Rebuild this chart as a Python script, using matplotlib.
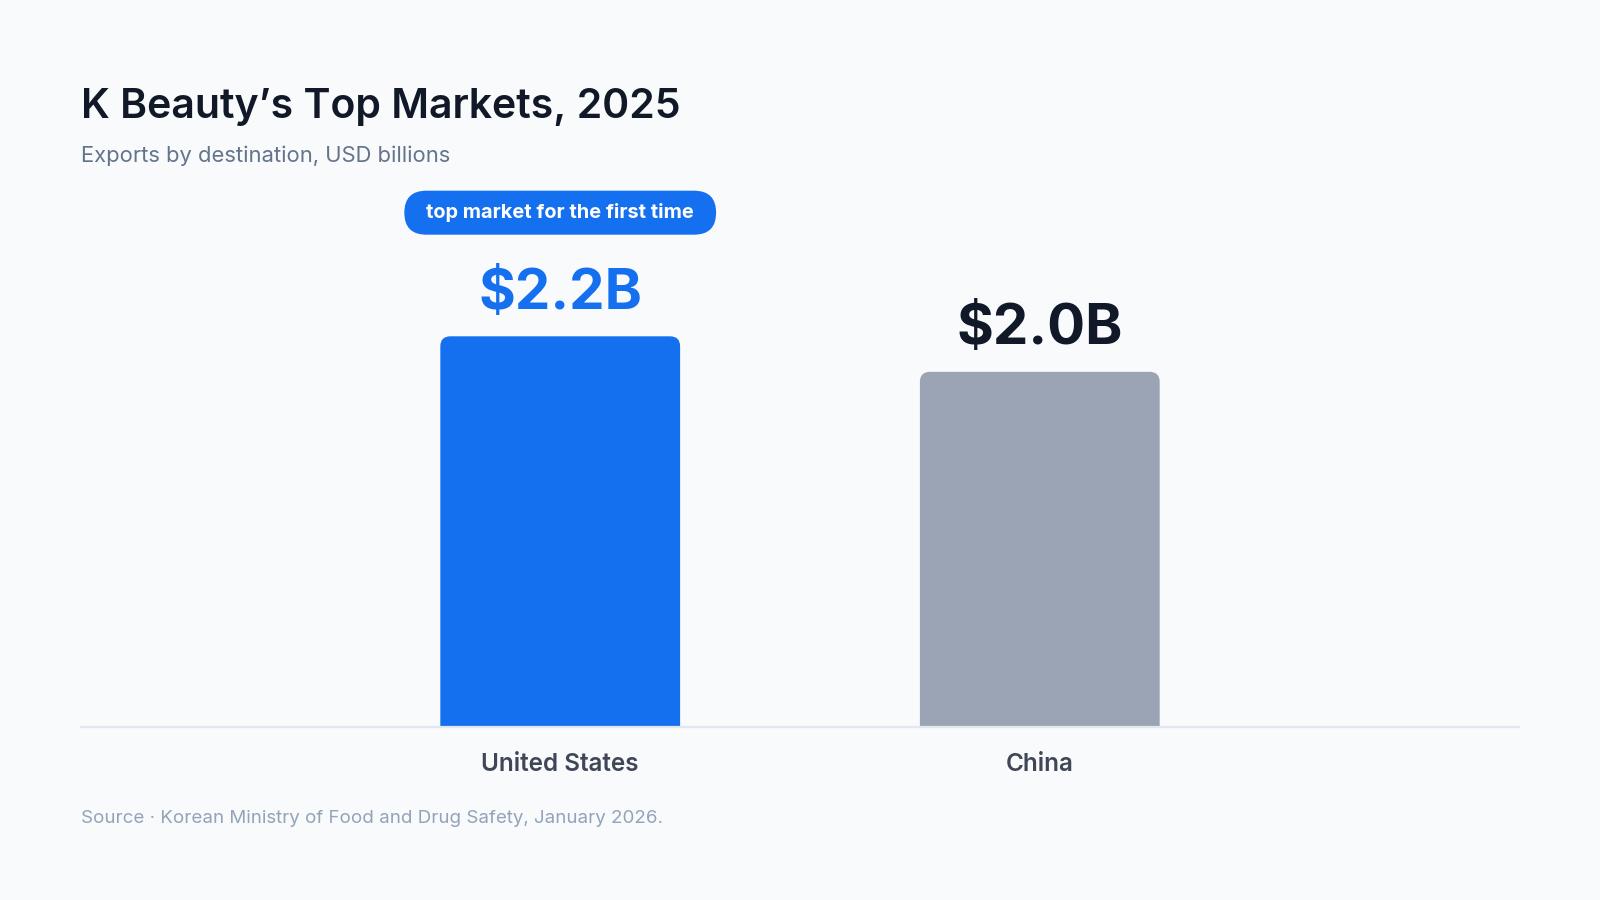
import matplotlib
matplotlib.use("Agg")
import matplotlib.pyplot as plt
from matplotlib.patches import FancyBboxPatch

markets = ["United States", "China"]
exports = [2.2, 2.0]
value_labels = ["$2.2B", "$2.0B"]
bar_colors = ["#1570ef", "#9ba4b4"]
label_colors = ["#1570ef", "#111827"]
badge_text = "top market for the first time"

bg = "#f8fafc"
plt.rcParams["font.family"] = ["Inter", "DejaVu Sans"]

fig = plt.figure(figsize=(16, 9), dpi=100, facecolor=bg)
ax = fig.add_axes([0.0504, 0.1922, 0.8992, 0.592])
ax.set_facecolor(bg)
ax.set_xlim(-1, 2)
ax.set_ylim(0, 3)

# px per data unit, used to keep corner radius round
px_x = ax.get_position().width * 1600 / 3
px_y = ax.get_position().height * 900 / 3
radius_px = 10
bars = ax.bar(range(len(markets)), exports, width=0.5, color="none")
for b, c in zip(bars, bar_colors):
    x0, w, h = b.get_x(), b.get_width(), b.get_height()
    r = radius_px / px_x
    ext = 2 * radius_px / px_y  # pushed below the axis, clipped away
    ax.add_patch(FancyBboxPatch((x0, -ext), w, h + ext,
                                boxstyle=f"round,pad=0,rounding_size={r}",
                                mutation_aspect=px_x / px_y,
                                fc=c, ec="none", zorder=2))

for i, (v, lab, c) in enumerate(zip(exports, value_labels, label_colors)):
    ax.annotate(lab, (i, v), xytext=(0, 20), textcoords="offset points",
                ha="center", va="baseline", fontsize=40.5,
                fontweight="bold", color=c)

# badge over the top market
top = exports.index(max(exports))
badge = ax.annotate(badge_text, (top, exports[top]), xytext=(0, 89),
                    textcoords="offset points", ha="center", va="center",
                    fontsize=14.4, fontweight="bold", color="white", zorder=6)

for s in ax.spines.values():
    s.set_visible(False)
ax.axhline(0, color="#e2e8f0", lw=1.6, zorder=3, clip_on=False)
ax.set_yticks([])
ax.set_xticks(range(len(markets)))
ax.set_xticklabels(markets, fontsize=17.5, fontweight="semibold", color="#3f4756")
ax.tick_params(axis="x", length=0, pad=18.5)

fig.text(0.0504, 0.869, "K Beauty\u2019s Top Markets, 2025", fontsize=29.5,
         fontweight="semibold", color="#111827", va="baseline")
fig.text(0.0504, 0.820, "Exports by destination, USD billions", fontsize=15.8,
         color="#64748b", va="baseline")
fig.text(0.0504, 0.0856, "Source \u00b7 Korean Ministry of Food and Drug Safety, January 2026.",
         fontsize=13.5, color="#94a3b8", va="baseline")

# pill behind the badge text, sized from the text extent
fig.canvas.draw()
bb = badge.get_window_extent()
cx, cy = (bb.x0 + bb.x1) / 2, (bb.y0 + bb.y1) / 2
pw, ph = bb.width + 44, 44
ax.add_patch(FancyBboxPatch((cx - pw / 2, cy - ph / 2), pw, ph,
                            boxstyle=f"round,pad=0,rounding_size={ph / 2}",
                            fc="#1570ef", ec="none", transform=None,
                            clip_on=False, zorder=5))

fig.savefig("out.png", dpi=100, facecolor=bg)
